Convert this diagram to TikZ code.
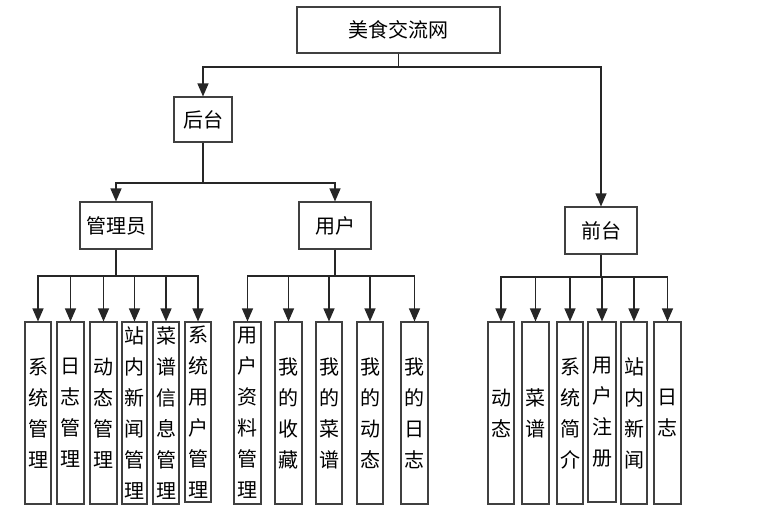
\documentclass[tikz,border=0pt]{standalone}
\usepackage{fontspec}
\newfontfamily\cjk{Noto Sans CJK SC}
\usetikzlibrary{arrows.meta}
\tikzset{
  box/.style={draw=black!75, line width=1.1pt, inner sep=0pt, align=center,
    font=\cjk\fontsize{20}{31}\selectfont},
  arr/.style={draw=black!85, line width=1.2pt, -{Triangle[length=13pt,width=11pt]}},
  ln/.style={draw=black!85, line width=1.2pt}
}
\newcommand{\bx}[6]{%
  \pgfmathsetmacro{\bw}{#4-#2}\pgfmathsetmacro{\bh}{#5-#3}%
  \pgfmathsetmacro{\cx}{(#2+#4)/2}\pgfmathsetmacro{\cy}{(#3+#5)/2}%
  \node[box, minimum width=\bw pt, minimum height=\bh pt] (#1) at (\cx,\cy) {#6};}
\begin{document}
\begin{tikzpicture}[x=1pt,y=-1pt]
\useasboundingbox (0,0) rectangle (782,517);
% top levels
\bx{top}{297}{7}{500}{53}{美食交流网}
\bx{ht}{174}{97}{232}{142}{后台}
\bx{qt}{565}{207}{637}{254}{前台}
\bx{gly}{80}{202}{152}{249}{管理员}
\bx{yh}{299}{202}{371}{249}{用户}
% admin children
\bx{a1}{25}{322}{51}{504}{系\\统\\管\\理}
\bx{a2}{57}{322}{84}{504}{日\\志\\管\\理}
\bx{a3}{90}{322}{117}{504}{动\\态\\管\\理}
\bx{a4}{122}{322}{147}{504}{站\\内\\新\\闻\\管\\理}
\bx{a5}{153}{322}{179}{504}{菜\\谱\\信\\息\\管\\理}
\bx{a6}{185}{322}{211}{502}{系\\统\\用\\户\\管\\理}
% user children
\bx{u1}{234}{322}{261}{504}{用\\户\\资\\料\\管\\理}
\bx{u2}{275}{322}{302}{504}{我\\的\\收\\藏}
\bx{u3}{316}{322}{342}{504}{我\\的\\菜\\谱}
\bx{u4}{357}{322}{383}{504}{我\\的\\动\\态}
\bx{u5}{401}{322}{428}{504}{我\\的\\日\\志}
% front children
\bx{f1}{488}{322}{514}{504}{动\\态}
\bx{f2}{522}{322}{549}{504}{菜\\谱}
\bx{f3}{557}{322}{583}{504}{系\\统\\简\\介}
\bx{f4}{588}{322}{616}{502}{用\\户\\注\\册}
\bx{f5}{621}{322}{647}{504}{站\\内\\新\\闻}
\bx{f6}{654}{322}{681}{504}{日\\志}
% bus coordinates
\coordinate (b0) at (0,67);
\coordinate (b1) at (0,183);
\coordinate (b2) at (0,276);
\coordinate (b3) at (0,276);
\coordinate (b4) at (0,277);
% connectors
\draw[ln] (top.south) -- (top.south |- b0);
\draw[arr] (top.south |- b0) -| (ht.north);
\draw[arr] (top.south |- b0) -| (qt.north);
\draw[ln] (ht.south) -- (ht.south |- b1);
\draw[arr] (ht.south |- b1) -| (gly.north);
\draw[arr] (ht.south |- b1) -| (yh.north);
\draw[ln] (gly.south) -- (gly.south |- b2);
\foreach \n in {a1,a2,a3,a4,a5,a6}
  \draw[arr] (gly.south |- b2) -| (\n.north);
\draw[ln] (yh.south) -- (yh.south |- b3);
\foreach \n in {u1,u2,u3,u4,u5}
  \draw[arr] (yh.south |- b3) -| (\n.north);
\draw[ln] (qt.south) -- (qt.south |- b4);
\foreach \n in {f1,f2,f3,f4,f5,f6}
  \draw[arr] (qt.south |- b4) -| (\n.north);
\end{tikzpicture}
\end{document}
